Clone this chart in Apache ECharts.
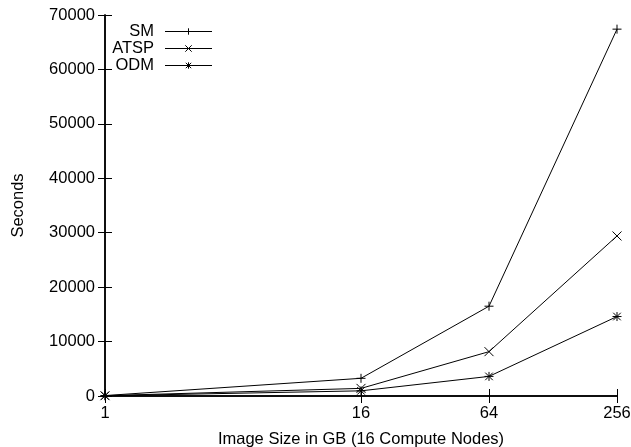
<!DOCTYPE html>
<html>
<head>
<meta charset="utf-8">
<script src="https://cdn.jsdelivr.net/npm/echarts@6/dist/echarts.min.js"></script>
<style>
  html, body { margin: 0; padding: 0; background: #fff; }
  #chart { width: 631px; height: 447px; }
</style>
</head>
<body>
<div id="chart"></div>
<script>
// Image sizes in GB (plotted on a base-2 logarithmic axis)
const sizes = [1, 16, 64, 256];
// Run times in seconds
const smSeconds   = [80, 3250, 16500, 67400];
const atspSeconds = [60, 1400, 8150, 29400];
const odmSeconds  = [40, 950, 3600, 14600];
const seriesNames = ['SM', 'ATSP', 'ODM'];
const yTicks = [0, 10000, 20000, 30000, 40000, 50000, 60000, 70000];

const FONT = 'Liberation Sans, Arial, Helvetica, sans-serif';
const FS = 16.5;
const INK = '#000';

// gnuplot-style point markers: plus, cross, asterisk
const markers = {
  SM: 'path://M0,5L10,5M5,0L5,10',
  ATSP: 'path://M0,0L10,10M0,10L10,0',
  ODM: 'path://M0,5L10,5M5,0L5,10M0.8,0.8L9.2,9.2M0.8,9.2L9.2,0.8'
};

const toPoints = (vals) => sizes.map((s, i) => [Math.log2(s), vals[i]]);
const xTickPos = sizes.map((s) => Math.log2(s));

function makeSeries(name, vals) {
  return {
    name: name,
    type: 'line',
    data: toPoints(vals),
    symbol: markers[name],
    symbolSize: 9,
    showAllSymbol: true,
    lineStyle: { color: INK, width: 1 },
    itemStyle: { color: 'rgba(0,0,0,0)', borderColor: INK, borderWidth: 1 },
    emphasis: { disabled: true },
    animation: false
  };
}

const axisLineStyle = { show: true, lineStyle: { color: INK, width: 1.5 } };

const chart = echarts.init(document.getElementById('chart'), null, { renderer: 'canvas' });
chart.setOption({
  backgroundColor: '#fff',
  animation: false,
  grid: { left: 105, right: 14, top: 15, bottom: 51, containLabel: false, outerBoundsMode: 'none' },
  legend: {
    orient: 'vertical',
    left: 107,
    top: 18,
    align: 'right',
    itemGap: 0,
    itemWidth: 47,
    itemHeight: 8,
    data: seriesNames,
    lineStyle: { color: INK, width: 1 },
    itemStyle: { color: 'rgba(0,0,0,0)', borderColor: INK, borderWidth: 1 },
    textStyle: {
      color: INK, fontFamily: FONT, fontSize: FS, lineHeight: 16.5,
      width: 42, align: 'right', padding: [0, 6, 0, 0]
    },
    selectedMode: false
  },
  xAxis: [
    {
      type: 'value', min: 0, max: 8,
      position: 'bottom',
      name: 'Image Size in GB (16 Compute Nodes)',
      nameLocation: 'middle',
      nameGap: 35,
      nameTextStyle: { color: INK, fontFamily: FONT, fontSize: FS },
      axisLine: axisLineStyle,
      axisTick: { show: true, inside: true, length: 7, customValues: xTickPos, lineStyle: { color: INK, width: 1 } },
      axisLabel: {
        customValues: xTickPos,
        color: INK, fontFamily: FONT, fontSize: FS, margin: 9,
        formatter: (v) => String(Math.round(Math.pow(2, v)))
      },
      splitLine: { show: false }
    },
    {
      type: 'value', min: 0, max: 8,
      position: 'top',
      axisLine: axisLineStyle,
      axisTick: { show: true, inside: true, length: 7, customValues: xTickPos, lineStyle: { color: INK, width: 1 } },
      axisLabel: { show: false },
      splitLine: { show: false }
    }
  ],
  yAxis: [
    {
      type: 'value', min: 0, max: 70000, interval: 10000,
      position: 'left',
      name: 'Seconds',
      nameLocation: 'middle',
      nameGap: 78,
      nameRotate: 90,
      nameTextStyle: { color: INK, fontFamily: FONT, fontSize: FS },
      axisLine: axisLineStyle,
      axisTick: { show: true, inside: true, length: 7, customValues: yTicks, lineStyle: { color: INK, width: 1 } },
      axisLabel: {
        color: INK, fontFamily: FONT, fontSize: FS, margin: 10, customValues: yTicks,
        formatter: (v) => String(v)
      },
      splitLine: { show: false }
    },
    {
      type: 'value', min: 0, max: 70000, interval: 10000,
      position: 'right',
      axisLine: axisLineStyle,
      axisTick: { show: true, inside: true, length: 7, lineStyle: { color: INK, width: 1 } },
      axisLabel: { show: false },
      splitLine: { show: false }
    }
  ],
  series: [
    makeSeries('SM', smSeconds),
    makeSeries('ATSP', atspSeconds),
    makeSeries('ODM', odmSeconds)
  ]
});
</script>
</body>
</html>
